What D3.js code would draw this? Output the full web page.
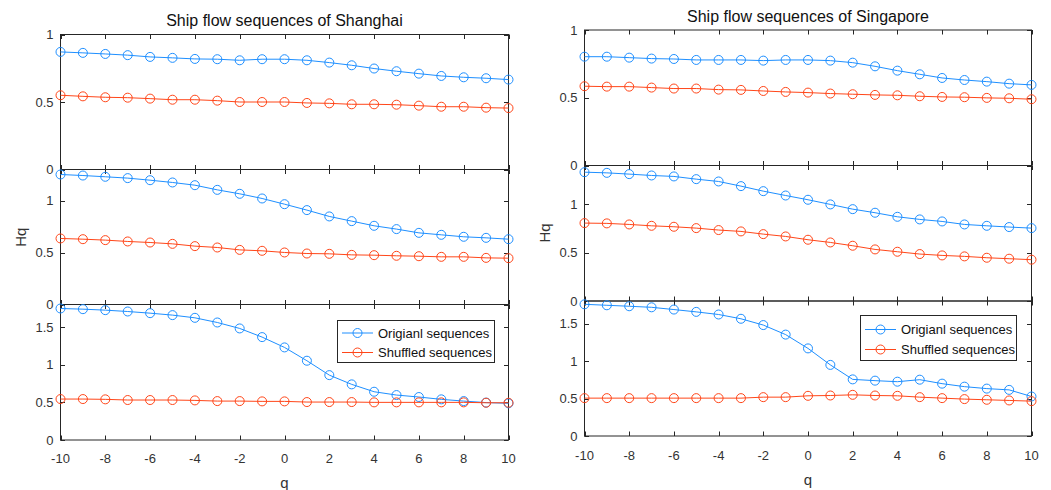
<!DOCTYPE html>
<html>
<head>
<meta charset="utf-8">
<script src="https://cdn.jsdelivr.net/npm/d3@7"></script>
<style>
  html, body { margin: 0; padding: 0; background: #fff; }
  svg { display: block; font-family: "Liberation Sans", Arial, sans-serif; }
</style>
</head>
<body>
<svg id="chart" width="1051" height="490"></svg>
<script>
// ---------- data ----------
const q = [-10,-9,-8,-7,-6,-5,-4,-3,-2,-1,0,1,2,3,4,5,6,7,8,9,10];
const xTicks = [-10,-8,-6,-4,-2,0,2,4,6,8,10];
const seriesNames = ["Origianl sequences", "Shuffled sequences"];
const titles = ["Ship flow sequences of Shanghai", "Ship flow sequences of Singapore"];

// Shanghai
const shOrig1 = [0.871,0.864,0.856,0.847,0.834,0.827,0.819,0.817,0.809,0.817,0.817,0.809,0.792,0.772,0.748,0.728,0.710,0.693,0.683,0.676,0.666];
const shShuf1 = [0.550,0.542,0.535,0.532,0.525,0.517,0.517,0.510,0.500,0.500,0.500,0.493,0.490,0.483,0.483,0.480,0.473,0.465,0.465,0.458,0.455];
const shOrig2 = [1.252,1.242,1.230,1.217,1.197,1.175,1.149,1.104,1.066,1.021,0.966,0.909,0.848,0.803,0.758,0.726,0.690,0.671,0.652,0.642,0.629];
const shShuf2 = [0.636,0.629,0.620,0.607,0.597,0.584,0.562,0.549,0.526,0.517,0.501,0.491,0.488,0.478,0.475,0.469,0.465,0.459,0.459,0.449,0.446];
const shOrig3 = [1.747,1.738,1.725,1.707,1.685,1.659,1.623,1.561,1.482,1.367,1.230,1.053,0.862,0.739,0.641,0.597,0.571,0.540,0.517,0.497,0.487];
const shShuf3 = [0.544,0.544,0.540,0.531,0.531,0.531,0.526,0.517,0.517,0.513,0.513,0.504,0.504,0.504,0.500,0.500,0.500,0.500,0.500,0.495,0.495];

// Singapore
const sgOrig1 = [0.803,0.803,0.796,0.789,0.786,0.779,0.779,0.779,0.774,0.779,0.779,0.774,0.759,0.732,0.700,0.673,0.646,0.631,0.619,0.604,0.595];
const sgShuf1 = [0.585,0.582,0.582,0.575,0.568,0.568,0.560,0.558,0.550,0.543,0.538,0.531,0.526,0.521,0.518,0.511,0.506,0.504,0.499,0.496,0.489];
const sgOrig2 = [1.331,1.324,1.311,1.297,1.287,1.259,1.235,1.187,1.135,1.090,1.046,0.998,0.949,0.912,0.870,0.843,0.822,0.791,0.777,0.764,0.753];
const sgShuf2 = [0.805,0.802,0.791,0.777,0.767,0.753,0.733,0.719,0.691,0.667,0.633,0.605,0.571,0.533,0.509,0.485,0.471,0.461,0.447,0.437,0.427];
const sgOrig3 = [1.756,1.743,1.730,1.716,1.686,1.655,1.620,1.563,1.479,1.352,1.168,0.948,0.755,0.738,0.724,0.751,0.698,0.658,0.632,0.615,0.527];
const sgShuf3 = [0.505,0.505,0.505,0.505,0.505,0.505,0.505,0.505,0.518,0.518,0.536,0.540,0.549,0.540,0.536,0.518,0.505,0.492,0.483,0.474,0.465];

// y-axis ranges and tick labels per panel (top, middle, bottom)
const shYMax = [1, 1.3, 1.8];
const sgYMax = [1, 1.4, 1.8];
const yTicks1 = [0, 0.5, 1];
const yTicks2 = [0, 0.5, 1];
const yTicks3 = [0, 0.5, 1, 1.5];

// ---------- style / layout ----------
const COL_ORIG = "#1e8fff";
const COL_SHUF = "#ff4619";
const AX = "#262626";
const TXT = "#333333";

const columns = [
  { title: titles[0], x0: 60.5, x1: 508.5, titleY: 26, labelX: 21, qY: 488, tickLabY: 463,
    panels: [[34.5,169.5],[169.5,304.5],[304.5,440]],
    ymax: shYMax, orig: [shOrig1, shOrig2, shOrig3], shuf: [shShuf1, shShuf2, shShuf3],
    legend: { x: 337.5, y: 320.5, w: 157, h: 42, lx0: 342, lx1: 373, tx: 378, r1: 333, r2: 352.5 } },
  { title: titles[1], x0: 584.5, x1: 1031.5, titleY: 22, labelX: 545, qY: 485, tickLabY: 460,
    panels: [[30,165.5],[165.5,301],[301,436]],
    ymax: sgYMax, orig: [sgOrig1, sgOrig2, sgOrig3], shuf: [sgShuf1, sgShuf2, sgShuf3],
    legend: { x: 860.5, y: 315.5, w: 156, h: 45, lx0: 865, lx1: 896, tx: 901, r1: 329.5, r2: 349.5 } }
];
const yTickSets = [yTicks1, yTicks2, yTicks3];

const svg = d3.select("#chart");
const TL = 4.5; // tick length

columns.forEach(col => {
  const x = d3.scaleLinear().domain([-10, 10]).range([col.x0, col.x1]);
  const cx = (col.x0 + col.x1) / 2;

  // title
  svg.append("text").attr("x", cx).attr("y", col.titleY)
    .attr("text-anchor", "middle").attr("font-size", 16).attr("fill", "#111")
    .text(col.title);

  col.panels.forEach((p, i) => {
    const [top, bot] = p;
    const y = d3.scaleLinear().domain([0, col.ymax[i]]).range([bot, top]);
    const g = svg.append("g");

    // box
    g.append("rect").attr("x", col.x0).attr("y", top)
      .attr("width", col.x1 - col.x0).attr("height", bot - top)
      .attr("fill", "none").attr("stroke", AX).attr("stroke-width", 1);

    // x ticks (inward, top and bottom)
    xTicks.forEach(t => {
      const xx = Math.round(x(t)) + 0.5;
      g.append("line").attr("x1", xx).attr("x2", xx).attr("y1", bot).attr("y2", bot - TL).attr("stroke", AX);
      g.append("line").attr("x1", xx).attr("x2", xx).attr("y1", top).attr("y2", top + TL).attr("stroke", AX);
    });
    // y ticks (inward, left and right) and labels
    yTickSets[i].forEach(t => {
      const yy = Math.round(y(t)) + 0.5;
      g.append("line").attr("x1", col.x0).attr("x2", col.x0 + TL).attr("y1", yy).attr("y2", yy).attr("stroke", AX);
      g.append("line").attr("x1", col.x1).attr("x2", col.x1 - TL).attr("y1", yy).attr("y2", yy).attr("stroke", AX);
      g.append("text").attr("x", col.x0 - 7).attr("y", y(t)).attr("dy", "0.36em")
        .attr("text-anchor", "end").attr("font-size", 13).attr("fill", TXT).text(t);
    });

    // series
    const line = d3.line().x((d, k) => x(q[k])).y(d => y(d));
    [[col.orig[i], COL_ORIG], [col.shuf[i], COL_SHUF]].forEach(([vals, c]) => {
      g.append("path").datum(vals).attr("d", line)
        .attr("fill", "none").attr("stroke", c).attr("stroke-width", 1);
      g.selectAll(null).data(vals).enter().append("circle")
        .attr("cx", (d, k) => x(q[k])).attr("cy", d => y(d)).attr("r", 4.5)
        .attr("fill", "none").attr("stroke", c).attr("stroke-width", 1);
    });
  });

  // x tick labels (bottom panel only)
  xTicks.forEach(t => {
    svg.append("text").attr("x", x(t)).attr("y", col.tickLabY)
      .attr("text-anchor", "middle").attr("font-size", 13).attr("fill", TXT).text(t);
  });

  // axis labels
  svg.append("text").attr("x", cx).attr("y", col.qY)
    .attr("text-anchor", "middle").attr("font-size", 15).attr("fill", TXT).text("q");
  const midY = (col.panels[0][0] + col.panels[2][1]) / 2;
  svg.append("text").attr("transform", `translate(${col.labelX + 5},${midY}) rotate(-90)`)
    .attr("text-anchor", "middle").attr("font-size", 15).attr("fill", TXT).text("Hq");

  // legend
  const L = col.legend;
  const lg = svg.append("g");
  lg.append("rect").attr("x", L.x).attr("y", L.y).attr("width", L.w).attr("height", L.h)
    .attr("fill", "#fff").attr("stroke", AX).attr("stroke-width", 1);
  [[L.r1, COL_ORIG, seriesNames[0]], [L.r2, COL_SHUF, seriesNames[1]]].forEach(([ry, c, name]) => {
    lg.append("line").attr("x1", L.lx0).attr("x2", L.lx1).attr("y1", ry).attr("y2", ry)
      .attr("stroke", c).attr("stroke-width", 1);
    lg.append("circle").attr("cx", (L.lx0 + L.lx1) / 2).attr("cy", ry).attr("r", 4.5)
      .attr("fill", "none").attr("stroke", c);
    lg.append("text").attr("x", L.tx).attr("y", ry).attr("dy", "0.36em")
      .attr("font-size", 13).attr("fill", "#111").text(name);
  });
});
</script>
</body>
</html>
